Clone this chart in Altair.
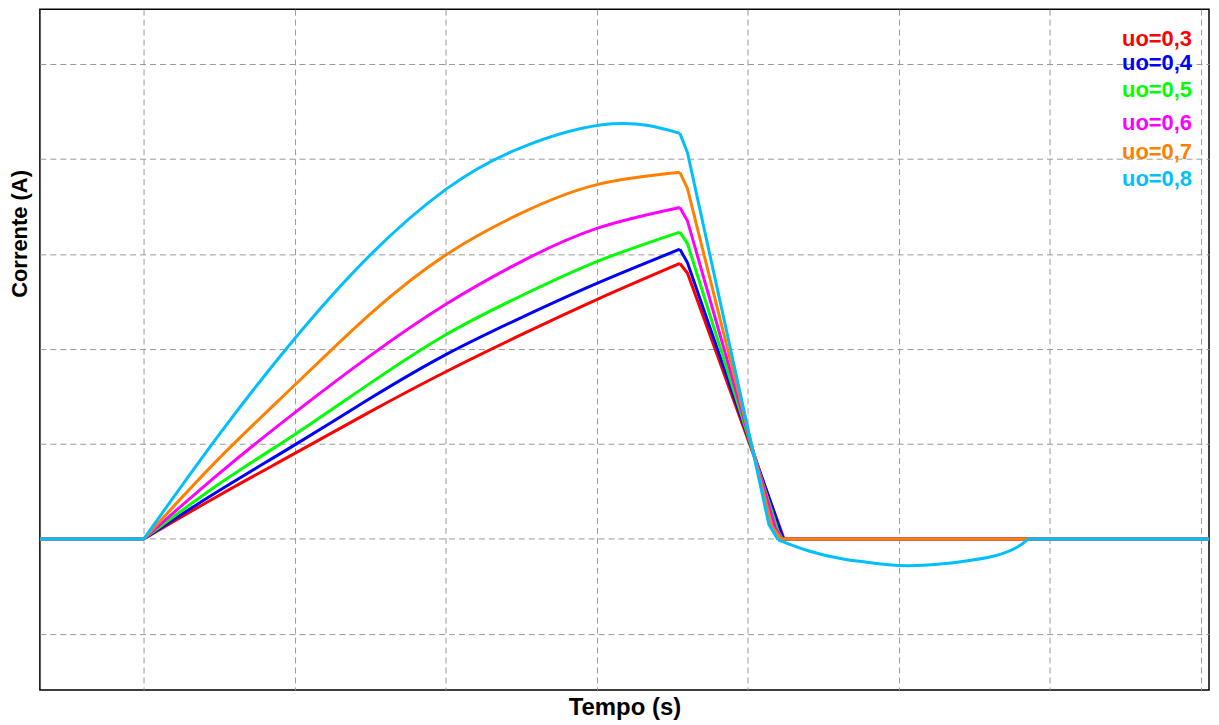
import altair as alt
import pandas as pd

# ---- data (x in grid units, y in grid units) ----
LABELS = ["uo=0,3", "uo=0,4", "uo=0,5", "uo=0,6", "uo=0,7", "uo=0,8"]
COLORS = ["#FF0000", "#0000FF", "#00FF00", "#FF00FF", "#FF8000", "#00BFFF"]

RISE_X = [0, 0.5, 1, 1.5, 2, 2.5, 3, 3.55]
RISE_X_CYAN = [0, 0.5, 1, 1.5, 2, 2.5, 3.1, 3.55]
RISE_Y = [
    [0, 0.46, 0.90, 1.34, 1.76, 2.15, 2.52, 2.90],
    [0, 0.51, 0.99, 1.48, 1.94, 2.33, 2.69, 3.05],
    [0, 0.58, 1.10, 1.64, 2.15, 2.56, 2.92, 3.23],
    [0, 0.69, 1.33, 1.93, 2.47, 2.92, 3.27, 3.49],
    [0, 0.85, 1.62, 2.37, 2.99, 3.43, 3.73, 3.86],
    [0, 1.10, 2.11, 2.99, 3.68, 4.12, 4.37, 4.27],
]

# fall segments (after the peak)
FALL_X = [
    [3.55, 3.60, 4.24],
    [3.55, 3.60, 4.235],
    [3.55, 3.60, 4.20, 4.23],
    [3.55, 3.60, 4.18, 4.225],
    [3.55, 3.60, 4.16, 4.22],
    [3.55, 3.60, 4.14, 4.20],
]
FALL_Y = [
    [2.90, 2.80, 0],
    [3.05, 2.91, 0],
    [3.23, 3.11, 0.08, 0],
    [3.49, 3.35, 0.12, 0],
    [3.86, 3.69, 0.13, 0],
    [4.27, 4.07, 0.15, -0.01],
]

# negative lobe of uo=0,8
NEG_X = [4.20, 4.41, 4.64, 4.86, 5.0, 5.19, 5.41, 5.63, 5.78, 5.86]
NEG_Y = [-0.01, -0.13, -0.215, -0.26, -0.28, -0.275, -0.24, -0.18, -0.09, 0]

X_START, X_END = -0.69, 7.06
X_TICKS = [0, 1, 2, 3, 4, 5, 6, 7]
Y_TICKS = [-1, 0, 1, 2, 3, 4, 5]
X_DOMAIN = [-0.688, 7.054]
Y_DOMAIN = [-1.590, 5.577]

# ---- build tables ----
linear_rows, smooth_rows = [], []
for i, lab in enumerate(LABELS):
    rx = RISE_X_CYAN if i == 5 else RISE_X
    linear_rows += [dict(s=lab, part="pre", x=X_START, y=0), dict(s=lab, part="pre", x=0, y=0)]
    for xv, yv in zip(rx, RISE_Y[i]):
        smooth_rows.append(dict(s=lab, part="rise", x=xv, y=yv))
    for xv, yv in zip(FALL_X[i], FALL_Y[i]):
        linear_rows.append(dict(s=lab, part="fall", x=xv, y=yv))
    if i == 5:
        for xv, yv in zip(NEG_X, NEG_Y):
            smooth_rows.append(dict(s=lab, part="neg", x=xv, y=yv))
        linear_rows += [dict(s=lab, part="post", x=NEG_X[-1], y=0), dict(s=lab, part="post", x=X_END, y=0)]
    else:
        linear_rows += [dict(s=lab, part="post", x=FALL_X[i][-1], y=0), dict(s=lab, part="post", x=X_END, y=0)]

lin_df = pd.DataFrame(linear_rows)
smooth_df = pd.DataFrame(smooth_rows)

FONT = "Liberation Sans"

x_enc = alt.X("x:Q", scale=alt.Scale(domain=X_DOMAIN, nice=False, zero=False),
              axis=alt.Axis(values=X_TICKS, title="Tempo (s)", titleY=18, titleBaseline="middle",
                            titleFontSize=24))
y_enc = alt.Y("y:Q", scale=alt.Scale(domain=Y_DOMAIN, nice=False, zero=False),
              axis=alt.Axis(values=Y_TICKS, title="Corrente (A)", titleX=-20, titleY=225,
                            titleAngle=270, titleBaseline="middle", titleAlign="center",
                            titleFontSize=22))

layers = []
for i, lab in enumerate(LABELS):
    l1 = alt.Chart(lin_df[lin_df.s == lab]).mark_line(strokeWidth=3, clip=True).encode(
        x=x_enc, y=y_enc, detail="part:N", order="x:Q", color=alt.value(COLORS[i]))
    l2 = alt.Chart(smooth_df[smooth_df.s == lab]).mark_line(strokeWidth=3, interpolate="natural", clip=True).encode(
        x=x_enc, y=y_enc, detail="part:N", order="x:Q", color=alt.value(COLORS[i]))
    layers += [l1, l2]

# legend as coloured text
LEG_Y = [30, 54, 81, 114, 143, 170]
for i, lab in enumerate(LABELS):
    t = alt.Chart(pd.DataFrame({"t": [lab]})).mark_text(
        font=FONT, fontSize=22, fontWeight="bold", align="right", baseline="middle",
        color=COLORS[i]).encode(text="t:N", x=alt.value(1156), y=alt.value(LEG_Y[i]))
    layers.append(t)

chart = alt.layer(*layers).properties(
    width=1173, height=683,
    autosize=alt.AutoSizeParams(type="none"),
    padding={"left": 32, "top": 0, "right": 2, "bottom": 34},
).configure_view(stroke="black", strokeWidth=1.5).configure_axis(
    ticks=False, labels=False, domain=False, grid=True,
    gridDash=[6, 4], gridColor="#9a9a9a", gridWidth=1,
    titleFont=FONT, titleFontWeight="bold", titleColor="black",
)

chart.save("out.html", embed_options={"renderer": "svg", "actions": False})
